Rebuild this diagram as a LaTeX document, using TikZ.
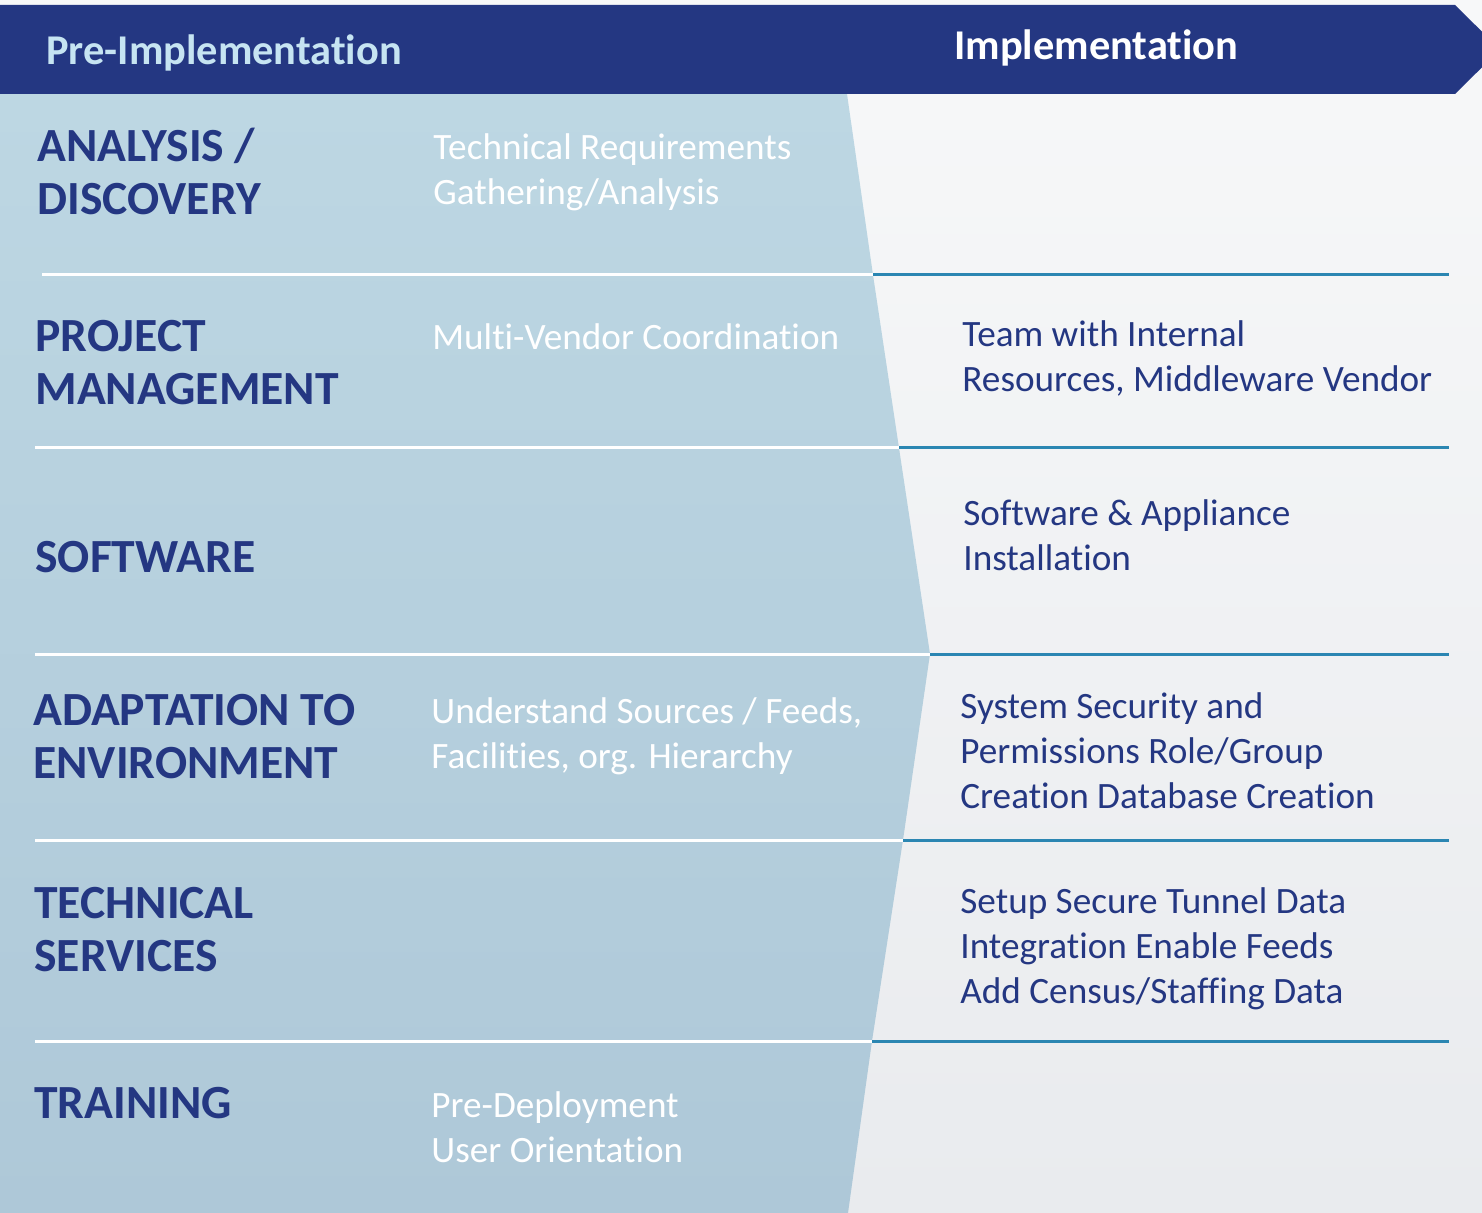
\documentclass[tikz,border=0pt]{standalone}
\usepackage{fontspec}
\setmainfont{Carlito}[Ligatures=NoCommon]
\definecolor{navy}{HTML}{243782}
\definecolor{headtext}{HTML}{C6E4F2}
\definecolor{teal line}{HTML}{2B86B2}
\definecolor{bgtop}{HTML}{F7F8F9}
\definecolor{bgbot}{HTML}{E9EBEE}
\definecolor{paletop}{HTML}{BDD7E3}
\definecolor{palebot}{HTML}{AEC8D8}

\begin{document}
\begin{tikzpicture}[x=0.5pt,y=-0.5pt,
    hd/.style={anchor=base west,inner sep=0pt,align=left,text=navy,font=\fontsize{23.8}{26.5}\selectfont\bfseries},
    lt/.style={anchor=base west,inner sep=0pt,align=left,text=white,font=\fontsize{18.6}{22.5}\selectfont},
    rt/.style={lt,text=navy},
    band/.style={anchor=base west,inner sep=0pt,font=\fontsize{21.2}{24}\selectfont\bfseries}]
  \useasboundingbox (0,0) rectangle (1482,1213);
  \clip (0,0) rectangle (1482,1213);
  \shade[top color=bgtop,bottom color=bgbot] (0,0) rectangle (1482,1213);
  \shade[top color=paletop,bottom color=palebot] (0,94) -- (847,94) -- (873,275) -- (899,448)
    -- (930,654) -- (903,840) -- (872,1041) -- (848,1213) -- (0,1213) -- cycle;
  \fill[navy] (0,5) -- (1455,5) -- (1500,49.5) -- (1455,94) -- (0,94) -- cycle;
  % row rules
  \foreach \y/\xa/\xb in {275/42/873, 448/35/899, 654/35/930, 840/35/903, 1041/35/872}{
    \draw[white,line width=1.5pt] (\xa,\y) -- (\xb,\y);
    \draw[teal line,line width=1.5pt] (\xb,\y) -- (1449,\y);
  }
  \node[band,text=headtext] (pre) at (46,65) {Pre-Implementation};
  \node[band,text=white] (impl) at (954,60) {Implementation};

  % multi-line nodes: base = last line
  \node[hd] (analysis) at (37,215) {ANALYSIS /\\DISCOVERY};
  \node[hd] (project) at (35,405) {PROJECT\\MANAGEMENT};
  \node[hd] (software) at (35,573) {SOFTWARE};
  \node[hd] (adapt) at (33,778) {ADAPTATION TO\\ENVIRONMENT};
  \node[hd] (tech) at (34,971) {TECHNICAL\\SERVICES};
  \node[hd] (training) at (34,1118) {TRAINING};

  \node[lt] (req) at (433,205) {Technical Requirements\\Gathering/Analysis};
  \node[lt] (vendor) at (432,350) {Multi-Vendor Coordination};
  \node[lt] (sources) at (431,768) {Understand Sources / Feeds,\\Facilities, org. Hierarchy};
  \node[lt] (orient) at (431,1162) {Pre-Deployment\\User Orientation};

  \node[rt] (team) at (962,392) {Team with Internal\\Resources, Middleware Vendor};
  \node[rt] (install) at (963,570) {Software \& Appliance\\Installation};
  \node[rt] (security) at (960,808) {System Security and\\Permissions Role/Group\\Creation Database Creation};
  \node[rt] (tunnel) at (960,1003) {Setup Secure Tunnel Data\\Integration Enable Feeds\\Add Census/Staffing Data};
\end{tikzpicture}
\end{document}
